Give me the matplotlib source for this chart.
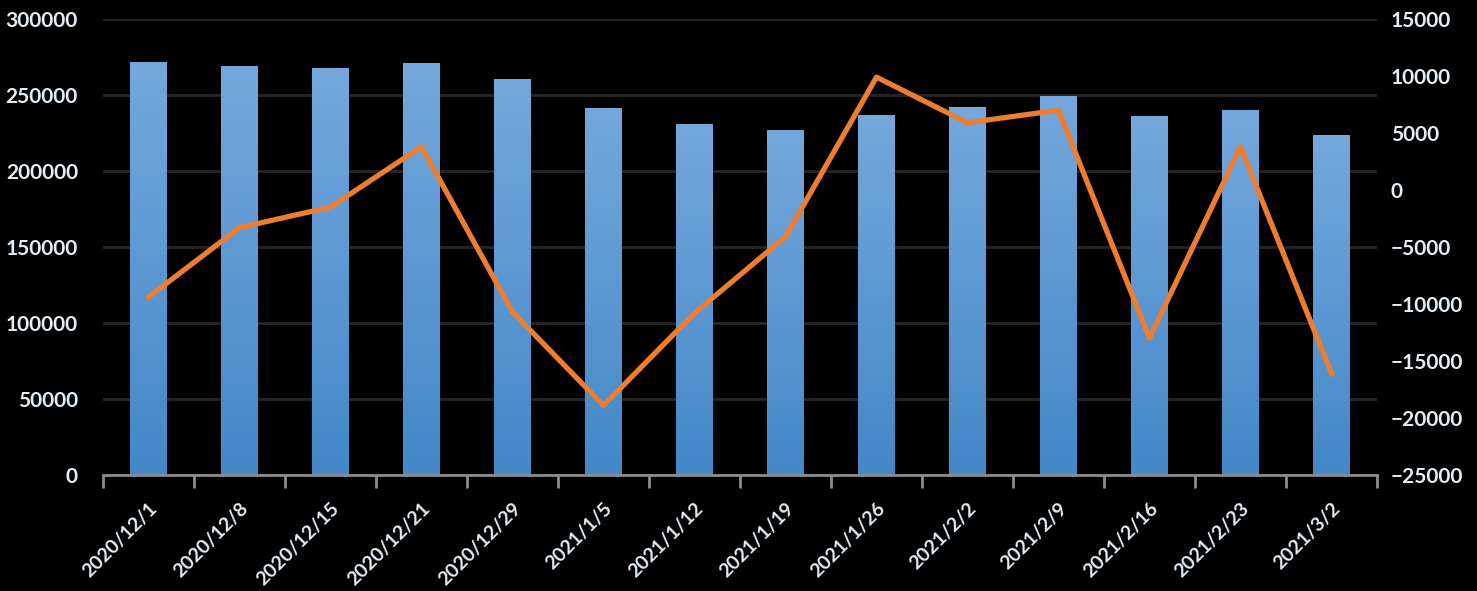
import matplotlib.pyplot as plt
import matplotlib.transforms as mtrans
import numpy as np
from matplotlib.colors import LinearSegmentedColormap

# data
dates = ['2020/12/1', '2020/12/8', '2020/12/15', '2020/12/21', '2020/12/29',
         '2021/1/5', '2021/1/12', '2021/1/19', '2021/1/26', '2021/2/2',
         '2021/2/9', '2021/2/16', '2021/2/23', '2021/3/2']
totals = [272000, 269000, 268000, 271000, 260500, 241500, 231000,
          227000, 237000, 242000, 249500, 236000, 240000, 223500]
changes = [-9400, -3300, -1500, 3800, -10700, -18900, -10800,
           -4100, 9900, 5900, 7000, -13000, 3800, -16100]

plt.rcParams['font.family'] = ['Lato', 'DejaVu Sans']
txt = '#e4ecf4'

fig = plt.figure(figsize=(14.77, 5.91), dpi=100, facecolor='black')
ax = fig.add_axes([103 / 1477, 1 - 475 / 591, 1274 / 1477, 456 / 591])
ax.set_facecolor('black')

x = np.arange(len(dates))
bars = ax.bar(x, totals, width=0.4, color='#5b9bd5', zorder=2)

# vertical gradient inside each bar
cmap = LinearSegmentedColormap.from_list('g', ['#4388c8', '#74a8dd'])
grad = np.linspace(0, 1, 256).reshape(-1, 1)
for b in bars:
    x0, w, h = b.get_x(), b.get_width(), b.get_height()
    im = ax.imshow(grad, cmap=cmap, origin='lower', aspect='auto',
                   extent=(x0, x0 + w, 0, h), zorder=2)
    im.set_clip_path(b)
    b.set_alpha(0)

ax.set_xlim(-0.5, len(dates) - 0.5)
ax.set_ylim(0, 300000)
ax.set_yticks(np.arange(0, 300001, 50000))
ax.yaxis.grid(True, color='#262626', linewidth=2)
ax.set_axisbelow(True)

for s in ['top', 'left', 'right']:
    ax.spines[s].set_visible(False)
ax.spines['bottom'].set_color('#8c8c8c')
ax.spines['bottom'].set_linewidth(2)

ax.set_xticks(x)
ax.set_xticklabels(dates, rotation=45, ha='right', rotation_mode='anchor',
                   color=txt, fontsize=14, fontweight='bold')
# nudge labels a little to the right like the original
shift = mtrans.ScaledTranslation(7 / 100, 0, fig.dpi_scale_trans)
for lab in ax.get_xticklabels():
    lab.set_transform(lab.get_transform() + shift)
ax.set_xticks(np.arange(-0.5, len(dates)), minor=True)
ax.tick_params(axis='x', which='major', length=0, pad=18)
ax.tick_params(axis='x', which='minor', length=9, width=2, color='#8c8c8c')
ax.tick_params(axis='y', length=0, labelsize=15, labelcolor=txt, pad=18)
for lab in ax.get_yticklabels():
    lab.set_fontweight('bold')

ax2 = ax.twinx()
ax2.plot(x, changes, color='#ed7d31', linewidth=3.8, zorder=3)
ax2.set_ylim(-25000, 15000)
ax2.set_yticks(np.arange(-25000, 15001, 5000))
ax2.tick_params(axis='y', length=0, labelsize=15, labelcolor=txt, pad=10)
for lab in ax2.get_yticklabels():
    lab.set_fontweight('bold')
for s in ax2.spines.values():
    s.set_visible(False)

fig.savefig('out.png', dpi=100, facecolor='black')
